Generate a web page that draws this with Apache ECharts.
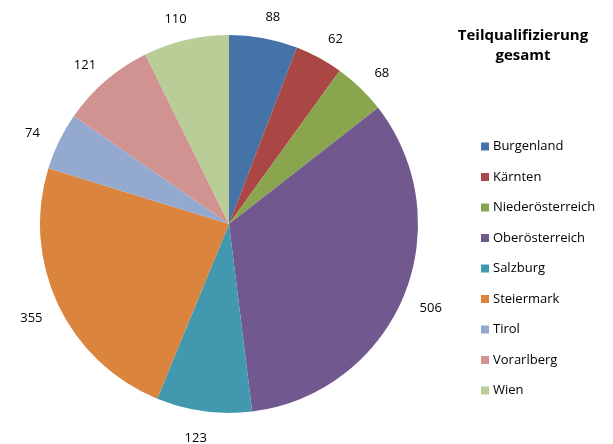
<!DOCTYPE html>
<html>
<head>
<meta charset="utf-8">
<script src="https://cdn.jsdelivr.net/npm/echarts@6/dist/echarts.min.js"></script>
<style>html,body{margin:0;padding:0;background:#fff}#c{width:613px;height:444px}</style>
</head>
<body>
<div id="c"></div>
<script>
const categories = ['Burgenland','Kärnten','Niederösterreich','Oberösterreich','Salzburg','Steiermark','Tirol','Vorarlberg','Wien'];
const values = [88, 62, 68, 506, 123, 355, 74, 121, 110];
const colors = ['#4572A7','#AA4643','#89A54E','#71588F','#4198AF','#DB843D','#93A9CF','#D19392','#B9CD96'];
const titleText = 'Teilqualifizierung\ngesamt';

const chart = echarts.init(document.getElementById('c'), null, {renderer: 'canvas'});
chart.setOption({
  animation: false,
  backgroundColor: '#fff',
  color: colors,
  title: {
    text: titleText,
    left: 518,
    top: 21,
    textAlign: 'center',
    textStyle: {fontFamily: 'Open Sans', fontWeight: 'bold', fontSize: 15, color: '#000', lineHeight: 20}
  },
  legend: {
    orient: 'vertical',
    left: 476,
    top: 135,
    itemWidth: 8,
    itemHeight: 8,
    itemGap: 17.5,
    icon: 'rect',
    data: categories,
    textStyle: {fontFamily: 'Open Sans', fontSize: 13, color: '#000', padding: [0,0,0,-1]}
  },
  series: [{
    type: 'pie',
    center: [229, 224],
    radius: 189,
    startAngle: 90,
    clockwise: true,
    data: categories.map((n, i) => ({name: n, value: values[i]})),
    itemStyle: {borderWidth: 0},
    label: {
      show: true,
      position: 'outside',
      formatter: '{c}',
      fontFamily: 'Open Sans',
      fontSize: 13,
      color: '#000',
      overflow: 'none'
    },
    labelLine: {show: false, length: 24, length2: 0},
    labelLayout: {align: 'center', dy: 3},
    emphasis: {disabled: true}
  }]
});
</script>
</body>
</html>
